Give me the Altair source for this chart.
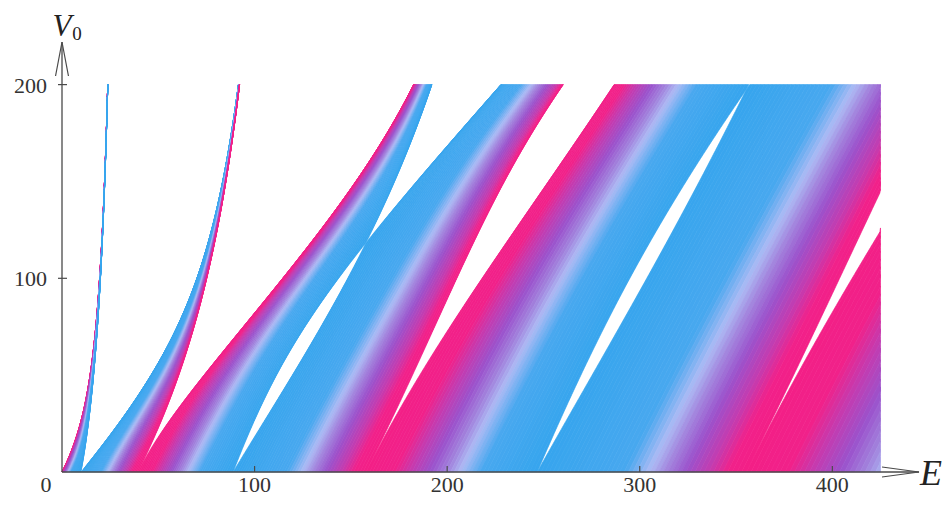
import numpy as np
import pandas as pd
import altair as alt

alt.data_transformers.disable_max_rows()

# ---------------- values ----------------
E_MAX = 425.0            # right edge of the coloured region
V0_MAX = 200.0           # top edge of the coloured region
WELL_FRACTION = 0.5      # well width / lattice period (equal well and barrier)
# free-electron gaps open at E = n^2 * pi^2 (~10, 39, 89, 158, 247, 355);
# the gap closings seen near (E~158, V0~120) and (E~355, V0~197) fix WELL_FRACTION.
X_TICKS = [100, 200, 300, 400]
Y_TICKS = [100, 200]
X_AXIS_END = 445
Y_AXIS_END = 222
# colour against the Bloch phase t = (k a mod 2pi) / 2pi
T_STOPS = [0.00, 0.09, 0.14, 0.20, 0.25, 0.29, 0.35, 0.50,
           0.72, 0.78, 0.82, 0.865, 0.92, 0.96, 1.00]
T_COLORS = ["#f31f86", "#f1218a", "#c63aae", "#9b52cc", "#a283dd", "#adbaf4", "#48a8ef", "#36a5ee",
            "#48a8ef", "#adbaf4", "#a283dd", "#9b52cc", "#c63aae", "#f1218a", "#f31f86"]

# ---------------- Kronig-Penney bands (hbar^2/2m = 1, period 1) ----------------
LEVELS = 48
N_BANDS = 7
E_GRID = np.linspace(1e-6, 445.0, 44501)
V_ROWS = np.linspace(0.0, V0_MAX, 101)
w = WELL_FRACTION
b = 1.0 - w
alpha = np.sqrt(E_GRID)
L_VALS = np.arange(N_BANDS * LEVELS + 1) / LEVELS


def theta_row(v):
    q2 = E_GRID - v
    r = np.sqrt(np.abs(q2))
    pos = q2 >= 0
    C = np.where(pos, np.cos(r * b), np.cosh(r * b))
    S = np.where(pos, b * np.sinc(r * b / np.pi), np.sinh(r * b) / np.where(r > 0, r, 1.0))
    f = np.cos(alpha * w) * C - (2 * E_GRID - v) / (2 * alpha) * np.sin(alpha * w) * S
    phi = np.arccos(np.clip(f, -1, 1)) / np.pi
    d = np.diff(phi)
    s = np.concatenate([[1.0], np.where(np.abs(d) > 1e-12, np.sign(d), 0.0)])
    idx = np.maximum.accumulate(np.where(s != 0, np.arange(s.size), 0))
    sf = s[idx]
    n = np.concatenate([[0], np.cumsum(sf[1:] != sf[:-1])])
    th = n + np.where(n % 2 == 0, phi, 1 - phi)
    return np.maximum.accumulate(th)


def e_at(th, L, side):
    i = np.searchsorted(th, L, side=side)
    i = np.clip(i, 1, th.size - 1)
    t0 = th[i - 1]
    t1 = th[i]
    den = np.where(t1 > t0, t1 - t0, 1.0)
    frac = np.clip(np.where(t1 > t0, (L - t0) / den, 0.0), 0, 1)
    e = E_GRID[i - 1] + frac * (E_GRID[i] - E_GRID[i - 1])
    return np.where(L > th[-1], np.inf, e)


n_strips = N_BANDS * LEVELS
XL = np.empty((V_ROWS.size, n_strips))
XR = np.empty((V_ROWS.size, n_strips))
for ri, v in enumerate(V_ROWS):
    th = theta_row(v)
    XL[ri] = e_at(th, L_VALS[:-1], "right")
    XR[ri] = e_at(th, L_VALS[1:], "left")

inside = XL < E_MAX
keep = inside.copy()
keep[1:] |= inside[:-1]
keep[:-1] |= inside[1:]

rows_idx, strip_idx = np.nonzero(keep)
strips = pd.DataFrame({
    "s": strip_idx,
    "V": np.round(V_ROWS[rows_idx], 3),
    "x": np.round(np.minimum(XL[rows_idx, strip_idx], E_MAX), 3),
    "x2": np.round(np.minimum(XR[rows_idx, strip_idx], E_MAX), 3),
    "t": np.round((((strip_idx + 0.5) / LEVELS) % 2) / 2, 4),
}).sort_values(["s", "V"])

# ---------------- chart ----------------
xs = alt.Scale(domain=[0, X_AXIS_END], nice=False, zero=False)
ys = alt.Scale(domain=[0, Y_AXIS_END], nice=False, zero=False)
cs = alt.Scale(domain=T_STOPS, range=T_COLORS, interpolate="rgb")
AX = "#4a4a4a"
TXT = "#333333"
SERIF = "Liberation Serif"


def X(f):
    return alt.X(f, scale=xs, axis=None)


def Y(f):
    return alt.Y(f, scale=ys, axis=None)


bands = alt.Chart(strips).mark_area(orient="horizontal", strokeWidth=0.7, opacity=1).encode(
    y=Y("V:Q"),
    x=alt.X("x:Q", scale=xs, axis=None, stack=None),
    x2="x2:Q",
    color=alt.Color("t:Q", scale=cs, legend=None),
    stroke=alt.Stroke("t:Q", scale=cs, legend=None),
    detail="s:N",
)

axis_df = pd.DataFrame({"x": [0, 0], "y": [0, 0], "x2": [X_AXIS_END, 0], "y2": [0, Y_AXIS_END]})
axis_lines = alt.Chart(axis_df).mark_rule(color=AX, strokeWidth=1.3).encode(
    x=X("x:Q"), y=Y("y:Q"), x2="x2:Q", y2="y2:Q")

xt_df = pd.DataFrame({"E": X_TICKS, "V": [0] * len(X_TICKS), "lab": [str(v) for v in X_TICKS]})
yt_df = pd.DataFrame({"E": [0] * len(Y_TICKS), "V": Y_TICKS, "lab": [str(v) for v in Y_TICKS]})

x_ticks = alt.Chart(xt_df).mark_tick(orient="vertical", size=6, thickness=1.2, color=AX,
                                     yOffset=-3, opacity=1).encode(x=X("E:Q"), y=Y("V:Q"))
y_ticks = alt.Chart(yt_df).mark_tick(orient="horizontal", size=9, thickness=1.2, color=AX,
                                     xOffset=0.5, opacity=1).encode(x=X("E:Q"), y=Y("V:Q"))

x_labels = alt.Chart(xt_df).mark_text(font=SERIF, fontSize=22, color=TXT, align="center",
                                      baseline="alphabetic", dy=20).encode(
    x=X("E:Q"), y=Y("V:Q"), text="lab:N")
y_labels = alt.Chart(yt_df).mark_text(font=SERIF, fontSize=22, color=TXT, align="right",
                                      baseline="middle", dx=-15, dy=1).encode(
    x=X("E:Q"), y=Y("V:Q"), text="lab:N")

origin_df = pd.DataFrame({"E": [0], "V": [0], "lab": ["0"]})
origin_label = alt.Chart(origin_df).mark_text(font=SERIF, fontSize=22, color=TXT, align="center",
                                              baseline="alphabetic", dx=-16, dy=20).encode(
    x=X("E:Q"), y=Y("V:Q"), text="lab:N")

e_title = alt.Chart(pd.DataFrame({"E": [X_AXIS_END], "V": [0], "lab": ["E"]})).mark_text(
    font=SERIF, fontSize=36, fontStyle="italic", color="#222222", align="left",
    baseline="alphabetic", dx=1, dy=13).encode(x=X("E:Q"), y=Y("V:Q"), text="lab:N")
v_title = alt.Chart(pd.DataFrame({"E": [0], "V": [Y_AXIS_END], "lab": ["V"]})).mark_text(
    font=SERIF, fontSize=31, fontStyle="italic", color="#222222", align="center",
    baseline="alphabetic", dx=0, dy=-6).encode(x=X("E:Q"), y=Y("V:Q"), text="lab:N")
v_sub = alt.Chart(pd.DataFrame({"E": [0], "V": [Y_AXIS_END], "lab": ["0"]})).mark_text(
    font=SERIF, fontSize=19, color="#222222", align="center",
    baseline="alphabetic", dx=15, dy=-2).encode(x=X("E:Q"), y=Y("V:Q"), text="lab:N")

x_arrow = alt.Chart(pd.DataFrame({"E": [X_AXIS_END], "V": [0]})).mark_point(
    shape="M-1,-0.135L0,0L-1,0.135", size=5476, filled=False, color=AX, strokeWidth=1.2,
    opacity=1).encode(x=X("E:Q"), y=Y("V:Q"))
y_arrow = alt.Chart(pd.DataFrame({"E": [0], "V": [Y_AXIS_END]})).mark_point(
    shape="M-0.19,1L0,0L0.19,1", size=4624, filled=False, color=AX, strokeWidth=1.2,
    opacity=1).encode(x=X("E:Q"), y=Y("V:Q"))

chart = alt.layer(
    bands, axis_lines, x_ticks, y_ticks, x_labels, y_labels, origin_label,
    e_title, v_title, v_sub, x_arrow, y_arrow,
).properties(
    width=857, height=430,
    autosize=alt.AutoSizeParams(type="none"),
    padding={"left": 54, "top": 34, "right": 24, "bottom": 26},
).configure_view(stroke=None)

chart.save("out.html", embed_options={"renderer": "svg", "actions": False})
